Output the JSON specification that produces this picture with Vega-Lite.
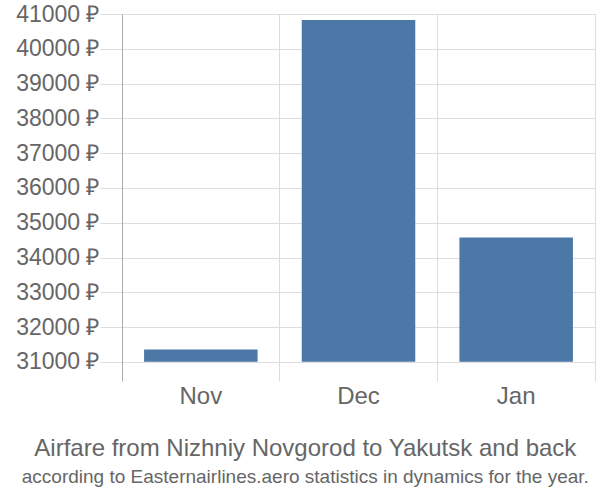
{
  "$schema": "https://vega.github.io/schema/vega-lite/v6.json",
  "width": 473,
  "height": 367,
  "autosize": {"type": "none"},
  "padding": {"left": 122, "top": 14, "right": 5, "bottom": 119},
  "background": "white",
  "data": {"values": [
    {"month": "Nov", "price": 31357},
    {"month": "Dec", "price": 40827},
    {"month": "Jan", "price": 34578}
  ]},
  "title": {
    "text": "Airfare from Nizhniy Novgorod to Yakutsk and back",
    "subtitle": "according to Easternairlines.aero statistics in dynamics for the year.",
    "orient": "bottom",
    "anchor": "middle",
    "frame": "bounds",
    "font": "Liberation Sans",
    "fontSize": 24,
    "fontWeight": "normal",
    "color": "#666666",
    "subtitleFont": "Liberation Sans",
    "subtitleFontSize": 19,
    "subtitleColor": "#666666",
    "subtitlePadding": 7,
    "offset": 29
  },
  "mark": {"type": "bar", "width": {"band": 0.72}, "color": "#4c78a8"},
  "encoding": {
    "x": {
      "field": "month",
      "type": "nominal",
      "sort": ["Nov", "Dec", "Jan"],
      "scale": {"paddingInner": 0, "paddingOuter": 0},
      "axis": {
        "title": null,
        "labelAngle": 0,
        "labelFont": "Liberation Sans",
        "labelFontSize": 24,
        "labelColor": "#666666",
        "labelPadding": 3,
        "ticks": false,
        "domain": false,
        "grid": true,
        "gridColor": "#dddddd",
        "bandPosition": 1
      }
    },
    "y": {
      "field": "price",
      "type": "quantitative",
      "scale": {"domain": [30450, 41000], "nice": false, "zero": false},
      "axis": {
        "title": null,
        "values": [31000, 32000, 33000, 34000, 35000, 36000, 37000, 38000, 39000, 40000, 41000],
        "labelExpr": "datum.value + ' ₽'",
        "labelFont": "Liberation Sans",
        "labelFontSize": 23,
        "labelColor": "#666666",
        "labelPadding": 1,
        "tickSize": 22,
        "tickColor": "#dddddd",
        "gridColor": "#dddddd",
        "domainColor": "#aaaaaa",
        "labelBound": false
      }
    },
    "y2": {"datum": 31000}
  },
  "config": {"view": {"stroke": null}}
}
